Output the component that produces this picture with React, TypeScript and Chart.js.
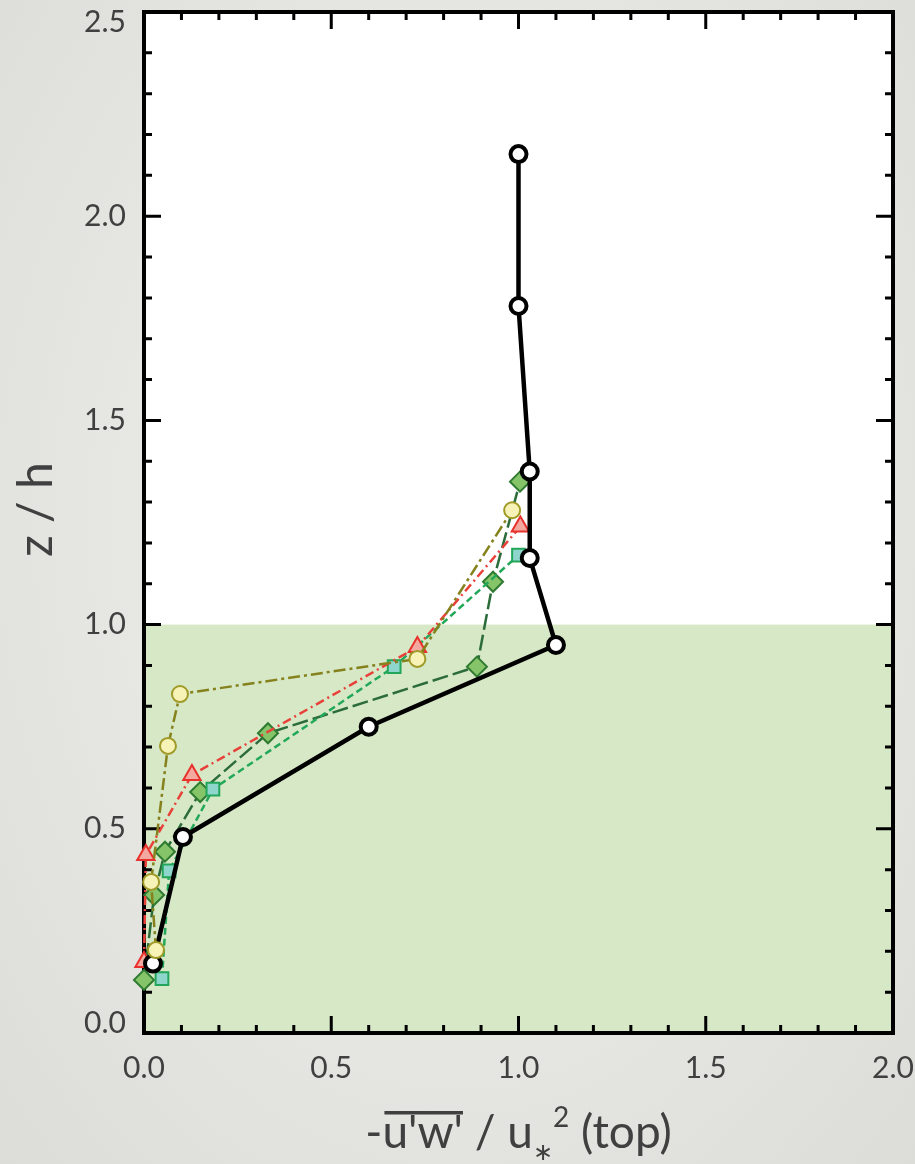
import React, { useEffect, useRef } from 'react';
import { Chart, registerables } from 'chart.js';

Chart.register(...registerables);

// Axis ticks
const xTickValues = [0, 0.5, 1, 1.5, 2];
const yTickValues = [0, 0.5, 1, 1.5, 2, 2.5];
const minorStep = 0.1;

// Canopy height (shaded below)
const canopyTop = 1.0;

// Reference profile (black circles)
const refX = [0.024, 0.104, 0.6, 1.1, 1.03, 1.03, 1.0, 1.0];
const refZ = [0.17, 0.48, 0.75, 0.95, 1.163, 1.375, 1.78, 2.152];

// Yellow circles
const yelX = [0.032, 0.019, 0.064, 0.096, 0.73, 0.983];
const yelZ = [0.203, 0.37, 0.703, 0.83, 0.916, 1.28];

// Red triangles
const redX = [0.0, 0.005, 0.128, 0.73, 1.005];
const redZ = [0.174, 0.436, 0.632, 0.945, 1.24];

// Teal squares
const tealX = [0.048, 0.067, 0.184, 0.668, 1.0];
const tealZ = [0.133, 0.397, 0.597, 0.897, 1.17];

// Green diamonds
const grnX = [0.0, 0.027, 0.056, 0.15, 0.331, 0.889, 0.932, 1.004];
const grnZ = [0.13, 0.338, 0.444, 0.59, 0.734, 0.897, 1.105, 1.35];

const pts = (xs: number[], zs: number[]) => xs.map((x, i) => ({ x, y: zs[i] }));

const TEXT = '#404040';
const FONT = 'Lato, "Open Sans", sans-serif';

const framePlugin = {
  id: 'frame',
  beforeDraw(chart: any) {
    const { ctx, chartArea: a, scales } = chart;
    const yc = scales.y.getPixelForValue(canopyTop);
    ctx.save();
    ctx.fillStyle = '#ffffff';
    ctx.fillRect(a.left, a.top, a.right - a.left, a.bottom - a.top);
    ctx.fillStyle = '#d6e8c6';
    ctx.fillRect(a.left, yc, a.right - a.left, a.bottom - yc);
    ctx.restore();
  },
  beforeDatasetsDraw(chart: any) {
    const { ctx, chartArea: a, scales } = chart;
    const xs = scales.x;
    const ys = scales.y;
    ctx.save();
    ctx.strokeStyle = '#000';
    ctx.lineWidth = 3;
    ctx.lineCap = 'butt';
    const major = 17;
    const minor = 8;
    const isMajor = (v: number) => Math.abs(v * 2 - Math.round(v * 2)) < 1e-6;
    ctx.beginPath();
    for (let i = 1; i < 20; i++) {
      const v = i * minorStep;
      const px = xs.getPixelForValue(v);
      const len = isMajor(v) ? major : minor;
      ctx.moveTo(px, a.bottom);
      ctx.lineTo(px, a.bottom - len);
      ctx.moveTo(px, a.top);
      ctx.lineTo(px, a.top + len);
    }
    for (let i = 1; i < 25; i++) {
      const v = i * minorStep;
      const py = ys.getPixelForValue(v);
      const len = isMajor(v) ? major : minor;
      ctx.moveTo(a.left, py);
      ctx.lineTo(a.left + len, py);
      ctx.moveTo(a.right, py);
      ctx.lineTo(a.right - len, py);
    }
    ctx.stroke();
    ctx.lineWidth = 4;
    ctx.strokeRect(a.left, a.top, a.right - a.left, a.bottom - a.top);
    ctx.restore();
  },
  afterDraw(chart: any) {
    const { ctx, chartArea: a, scales } = chart;
    const ys = scales.y;
    ctx.save();
    ctx.fillStyle = TEXT;

    // y tick labels; the end labels are pulled inside the frame
    ctx.font = `30px ${FONT}`;
    ctx.textAlign = 'right';
    ctx.textBaseline = 'middle';
    yTickValues.forEach((v) => {
      let py = ys.getPixelForValue(v);
      if (v === ys.max) py += 10;
      if (v === ys.min) py -= 10;
      ctx.fillText(v.toFixed(1), a.left - 18, py);
    });

    // y axis title, rotated
    ctx.save();
    ctx.translate(52, (a.top + a.bottom) / 2 - 13);
    ctx.rotate(-Math.PI / 2);
    ctx.font = `48px ${FONT}`;
    ctx.textAlign = 'center';
    ctx.textBaseline = 'alphabetic';
    ctx.fillText('z / h', 0, 0);
    ctx.restore();

    // x axis title with overline, subscript and superscript
    const big = `46px ${FONT}`;
    const parts = [
      { t: '-', f: big, dy: 0, over: false },
      { t: "u'w'", f: big, dy: 0, over: true },
      { t: ' / u', f: big, dy: 0, over: false },
      { t: '\u2217', f: '24px "DejaVu Sans", sans-serif', dy: 12, over: false },
      { t: '2', f: `28px ${FONT}`, dy: -21, over: false },
      { t: ' (top)', f: big, dy: 0, over: false },
    ];
    let total = 0;
    const widths = parts.map((p) => {
      ctx.font = p.f;
      const w = ctx.measureText(p.t).width;
      total += w;
      return w;
    });
    const baseline = 1148;
    let x = (a.left + a.right) / 2 - total / 2;
    ctx.textAlign = 'left';
    ctx.textBaseline = 'alphabetic';
    parts.forEach((p, i) => {
      ctx.font = p.f;
      ctx.fillText(p.t, x, baseline + p.dy);
      if (p.over) {
        ctx.fillRect(x + 2, baseline - 37, widths[i] - 2, 3.5);
      }
      x += widths[i];
    });
    ctx.restore();
  },
};

export default function App() {
  const ref = useRef<HTMLCanvasElement>(null);

  useEffect(() => {
    if (!ref.current) return;
    const chart = new Chart(ref.current, {
      type: 'scatter',
      data: {
        datasets: [
          {
            label: 'yellow',
            order: 0,
            data: pts(yelX, yelZ),
            showLine: true,
            borderColor: '#85821e',
            borderWidth: 2.5,
            borderDash: [12, 4, 3, 4],
            pointRadius: 8,
            pointBorderWidth: 2,
            pointBackgroundColor: '#f7f2b5',
            pointBorderColor: '#a09a28',
            pointStyle: 'circle',
            clip: false,
          },
          {
            label: 'reference',
            order: 1,
            data: pts(refX, refZ),
            showLine: true,
            borderColor: '#000000',
            borderWidth: 4.5,
            pointRadius: 8,
            pointBorderWidth: 4,
            pointBackgroundColor: '#ffffff',
            pointBorderColor: '#000000',
            pointStyle: 'circle',
            clip: false,
          },
          {
            label: 'red',
            order: 2,
            data: pts(redX, redZ),
            showLine: true,
            borderColor: '#e8413a',
            borderWidth: 2.5,
            borderDash: [9, 4, 2, 4],
            pointRadius: 10,
            pointBorderWidth: 2,
            pointBackgroundColor: '#f4a9a0',
            pointBorderColor: '#e8312c',
            pointStyle: 'triangle',
            clip: false,
          },
          {
            label: 'teal',
            order: 3,
            data: pts(tealX, tealZ),
            showLine: true,
            borderColor: '#23a85a',
            borderWidth: 2.5,
            borderDash: [7, 4],
            pointRadius: 9,
            pointBorderWidth: 2,
            pointBackgroundColor: '#8ed6cc',
            pointBorderColor: '#22a65a',
            pointStyle: 'rect',
            clip: false,
          },
          {
            label: 'green',
            order: 4,
            data: pts(grnX, grnZ),
            showLine: true,
            borderColor: '#2c6b3a',
            borderWidth: 2.5,
            borderDash: [16, 5],
            pointRadius: 10,
            pointBorderWidth: 2,
            pointBackgroundColor: '#86c46a',
            pointBorderColor: '#2e7a30',
            pointStyle: 'rectRot',
            clip: false,
          },
        ],
      },
      options: {
        animation: false,
        responsive: false,
        devicePixelRatio: 1,
        layout: { padding: { top: 12, right: 22, left: 0, bottom: 0 } },
        plugins: {
          legend: { display: false },
          tooltip: { enabled: false },
        },
        scales: {
          x: {
            type: 'linear',
            min: 0,
            max: 2,
            grid: { display: false, drawTicks: false },
            border: { display: false },
            afterBuildTicks: (s: any) => {
              s.ticks = xTickValues.map((v) => ({ value: v }));
            },
            afterFit: (s: any) => {
              s.height = 131;
              s.paddingLeft = 0;
              s.paddingRight = 0;
            },
            ticks: {
              callback: (v: any) => Number(v).toFixed(1),
              color: TEXT,
              font: { family: FONT, size: 30 },
              padding: 17,
              maxRotation: 0,
              autoSkip: false,
            },
          },
          y: {
            type: 'linear',
            min: 0,
            max: 2.5,
            grid: { display: false, drawTicks: false },
            border: { display: false },
            afterBuildTicks: (s: any) => {
              s.ticks = yTickValues.map((v) => ({ value: v }));
            },
            afterFit: (s: any) => {
              s.width = 144;
              s.paddingTop = 0;
              s.paddingBottom = 0;
            },
            ticks: { display: false },
          },
        },
      },
      plugins: [framePlugin],
    });
    return () => chart.destroy();
  }, []);

  return (
    <div
      style={{
        position: 'fixed',
        left: 0,
        top: 0,
        width: 915,
        height: 1164,
        background: 'radial-gradient(ellipse at 50% 45%, #ededea 0%, #e6e6e2 55%, #dcdcd8 100%)',
      }}
    >
      <canvas ref={ref} width={915} height={1164} style={{ display: 'block' }} />
    </div>
  );
}
